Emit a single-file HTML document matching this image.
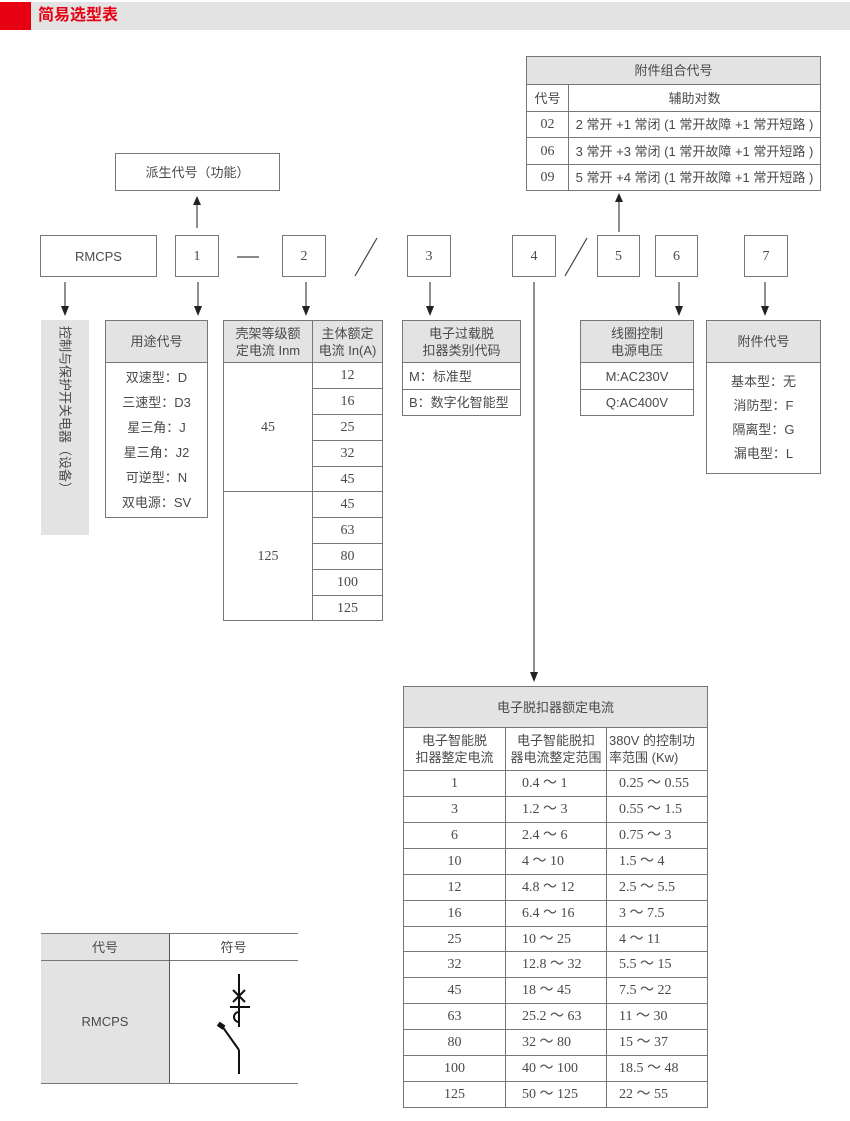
<!DOCTYPE html>
<html><head><meta charset="utf-8"><style>
*{margin:0;padding:0;box-sizing:border-box}
body{width:850px;height:1121px;background:#fff;position:relative;overflow:hidden;font-family:"Liberation Sans","Noto Sans CJK SC",sans-serif;color:#4a4a4a;font-size:13px}
.a{position:absolute}
.b{position:absolute;border:1px solid #777;display:flex;align-items:center;justify-content:center;text-align:center;line-height:17px;background:#fff}
.g{background:#e3e3e3}
.s{font-family:"Liberation Serif","Noto Sans CJK SC",serif;font-size:14px}
.c{position:absolute;display:flex;align-items:center;justify-content:center;text-align:center;line-height:17px}
svg{position:absolute;left:0;top:0}
</style></head><body>
<div class="a" style="left:0;top:2px;width:850px;height:28px;background:#e3e3e3"></div>
<div class="a" style="left:0;top:2px;width:31px;height:28px;background:#e60012"></div>
<div class="a" style="left:38px;top:6px;color:#e60012;font-size:16px;font-weight:bold;line-height:20px">简易选型表</div>

<svg width="850" height="1121">
<g stroke="#444" stroke-width="1.2">
<line x1="197" y1="228" x2="197" y2="203"/>
<line x1="619" y1="232" x2="619" y2="200"/>
<line x1="65" y1="282" x2="65" y2="308"/>
<line x1="198" y1="282" x2="198" y2="308"/>
<line x1="306" y1="282" x2="306" y2="308"/>
<line x1="430" y1="282" x2="430" y2="308"/>
<line x1="679" y1="282" x2="679" y2="308"/>
<line x1="765" y1="282" x2="765" y2="308"/>
<line x1="534" y1="282" x2="534" y2="674"/>
<line x1="237" y1="257" x2="259" y2="257"/>
<line x1="377" y1="238" x2="355" y2="276"/>
<line x1="587" y1="238" x2="565" y2="276"/>
</g>
<g fill="#222">
<path d="M193,205 L201,205 L197,196z"/>
<path d="M615,202 L623,202 L619,193z"/>
<path d="M61,306 L69,306 L65,316z"/>
<path d="M194,306 L202,306 L198,316z"/>
<path d="M302,306 L310,306 L306,316z"/>
<path d="M426,306 L434,306 L430,316z"/>
<path d="M675,306 L683,306 L679,316z"/>
<path d="M761,306 L769,306 L765,316z"/>
<path d="M530,672 L538,672 L534,682z"/>
</g>
</svg>

<div class="b" style="left:115px;top:153px;width:165px;height:38px">派生代号（功能）</div>
<div class="b" style="left:40px;top:235px;width:117px;height:42px">RMCPS</div>
<div class="b s" style="left:175px;top:235px;width:44px;height:42px">1</div>
<div class="b s" style="left:282px;top:235px;width:44px;height:42px">2</div>
<div class="b s" style="left:407px;top:235px;width:44px;height:42px">3</div>
<div class="b s" style="left:512px;top:235px;width:44px;height:42px">4</div>
<div class="b s" style="left:597px;top:235px;width:43px;height:42px">5</div>
<div class="b s" style="left:655px;top:235px;width:43px;height:42px">6</div>
<div class="b s" style="left:744px;top:235px;width:44px;height:42px">7</div>

<div class="a g" style="left:41px;top:320px;width:48px;height:215px"></div>
<div class="c" style="left:41px;top:326px;width:48px;height:200px;writing-mode:vertical-rl;text-orientation:sideways;font-size:13px;justify-content:flex-start">控制与保护开关电器（设备）</div>

<div class="b g" style="left:105px;top:320px;width:103px;height:43px">用途代号</div>
<div class="b" style="left:105px;top:362px;width:103px;height:156px;flex-direction:column;line-height:25px">双速型：D<br>三速型：D3<br>星三角：J<br>星三角：J2<br>可逆型：N<br>双电源：SV</div>

<div class="b g" style="left:223px;top:320px;width:90px;height:43px">壳架等级额<br>定电流 Inm</div>
<div class="b g" style="left:312px;top:320px;width:71px;height:43px">主体额定<br>电流 In(A)</div>
<div class="b s" style="left:223px;top:362px;width:90px;height:130px">45</div>
<div class="b s" style="left:223px;top:491px;width:90px;height:130px">125</div>
<div class="b s" style="left:312px;top:362px;width:71px;height:27px">12</div>
<div class="b s" style="left:312px;top:388px;width:71px;height:27px">16</div>
<div class="b s" style="left:312px;top:414px;width:71px;height:27px">25</div>
<div class="b s" style="left:312px;top:440px;width:71px;height:27px">32</div>
<div class="b s" style="left:312px;top:466px;width:71px;height:26px">45</div>
<div class="b s" style="left:312px;top:491px;width:71px;height:27px">45</div>
<div class="b s" style="left:312px;top:517px;width:71px;height:27px">63</div>
<div class="b s" style="left:312px;top:543px;width:71px;height:27px">80</div>
<div class="b s" style="left:312px;top:569px;width:71px;height:27px">100</div>
<div class="b s" style="left:312px;top:595px;width:71px;height:26px">125</div>

<div class="b g" style="left:402px;top:320px;width:119px;height:43px">电子过载脱<br>扣器类别代码</div>
<div class="b" style="left:402px;top:362px;width:119px;height:28px;justify-content:flex-start;padding-left:6px">M：标准型</div>
<div class="b" style="left:402px;top:389px;width:119px;height:27px;justify-content:flex-start;padding-left:6px">B：数字化智能型</div>

<div class="b g" style="left:580px;top:320px;width:114px;height:43px">线圈控制<br>电源电压</div>
<div class="b" style="left:580px;top:362px;width:114px;height:28px">M:AC230V</div>
<div class="b" style="left:580px;top:389px;width:114px;height:27px">Q:AC400V</div>

<div class="b g" style="left:706px;top:320px;width:115px;height:43px">附件代号</div>
<div class="b" style="left:706px;top:362px;width:115px;height:112px;flex-direction:column;line-height:24px">基本型：无<br>消防型：F<br>隔离型：G<br>漏电型：L</div>

<div class="b g" style="left:526px;top:56px;width:295px;height:29px">附件组合代号</div>
<div class="b" style="left:526px;top:84px;width:43px;height:28px">代号</div>
<div class="b" style="left:568px;top:84px;width:253px;height:28px">辅助对数</div>
<div class="b s" style="left:526px;top:111px;width:43px;height:27px">02</div>
<div class="b" style="left:568px;top:111px;width:253px;height:27px">2 常开 +1 常闭 (1 常开故障 +1 常开短路 )</div>
<div class="b s" style="left:526px;top:137px;width:43px;height:28px">06</div>
<div class="b" style="left:568px;top:137px;width:253px;height:28px">3 常开 +3 常闭 (1 常开故障 +1 常开短路 )</div>
<div class="b s" style="left:526px;top:164px;width:43px;height:27px">09</div>
<div class="b" style="left:568px;top:164px;width:253px;height:27px">5 常开 +4 常闭 (1 常开故障 +1 常开短路 )</div>

<div class="b g" style="left:403px;top:686px;width:305px;height:42px">电子脱扣器额定电流</div>
<div class="b" style="left:403px;top:727px;width:103px;height:44px">电子智能脱<br>扣器整定电流</div>
<div class="b" style="left:505px;top:727px;width:102px;height:44px">电子智能脱扣<br>器电流整定范围</div>
<div class="b" style="left:606px;top:727px;width:102px;height:44px;justify-content:flex-start;text-align:left;padding-left:2px">380V 的控制功<br>率范围 (Kw)</div>
<div id="rows"></div>

<div class="a" style="left:41px;top:933px;width:257px;height:151px;border-top:1px solid #777;border-bottom:1px solid #777"></div>
<div class="a g" style="left:41px;top:934px;width:128px;height:149px"></div>
<div class="a" style="left:41px;top:960px;width:257px;height:1px;background:#777"></div>
<div class="a" style="left:169px;top:934px;width:1px;height:149px;background:#555"></div>
<div class="c" style="left:41px;top:934px;width:128px;height:26px">代号</div>
<div class="c" style="left:169px;top:934px;width:129px;height:26px">符号</div>
<div class="c" style="left:41px;top:960px;width:128px;height:123px">RMCPS</div>
<svg width="850" height="1121" style="pointer-events:none">
<g stroke="#111" stroke-width="2" fill="none">
<line x1="239" y1="974" x2="239" y2="1027"/>
<line x1="233" y1="990" x2="245" y2="1002"/>
<line x1="245" y1="990" x2="233" y2="1002"/>
<line x1="230" y1="1007" x2="250" y2="1007"/>
<path d="M239,1012 A5,5 0 0 0 239,1022"/>
<line x1="222" y1="1026" x2="239" y2="1050"/>
<line x1="239" y1="1050" x2="239" y2="1074"/>
</g>
<rect x="218" y="1023" width="7" height="5" fill="#111" transform="rotate(35 221 1025)"/>
</svg>

<script>
var d=[["1","0.4 ～ 1","0.25 ～ 0.55"],["3","1.2 ～ 3","0.55 ～ 1.5"],["6","2.4 ～ 6","0.75 ～ 3"],["10","4 ～ 10","1.5 ～ 4"],["12","4.8 ～ 12","2.5 ～ 5.5"],["16","6.4 ～ 16","3 ～ 7.5"],["25","10 ～ 25","4 ～ 11"],["32","12.8 ～ 32","5.5 ～ 15"],["45","18 ～ 45","7.5 ～ 22"],["63","25.2 ～ 63","11 ～ 30"],["80","32 ～ 80","15 ～ 37"],["100","40 ～ 100","18.5 ～ 48"],["125","50 ～ 125","22 ～ 55"]];
var h="",y=770,rh=(1107-770)/13;
for(var i=0;i<13;i++){var t=Math.round(y+i*rh),n=Math.round(y+(i+1)*rh)+1;
h+='<div class="b s" style="left:403px;top:'+t+'px;width:103px;height:'+(n-t)+'px">'+d[i][0]+'</div>';
h+='<div class="b s" style="left:505px;top:'+t+'px;width:102px;height:'+(n-t)+'px;justify-content:flex-start;padding-left:16px">'+d[i][1]+'</div>';
h+='<div class="b s" style="left:606px;top:'+t+'px;width:102px;height:'+(n-t)+'px;justify-content:flex-start;padding-left:12px">'+d[i][2]+'</div>';}
document.getElementById("rows").innerHTML=h;
</script>
</body></html>
